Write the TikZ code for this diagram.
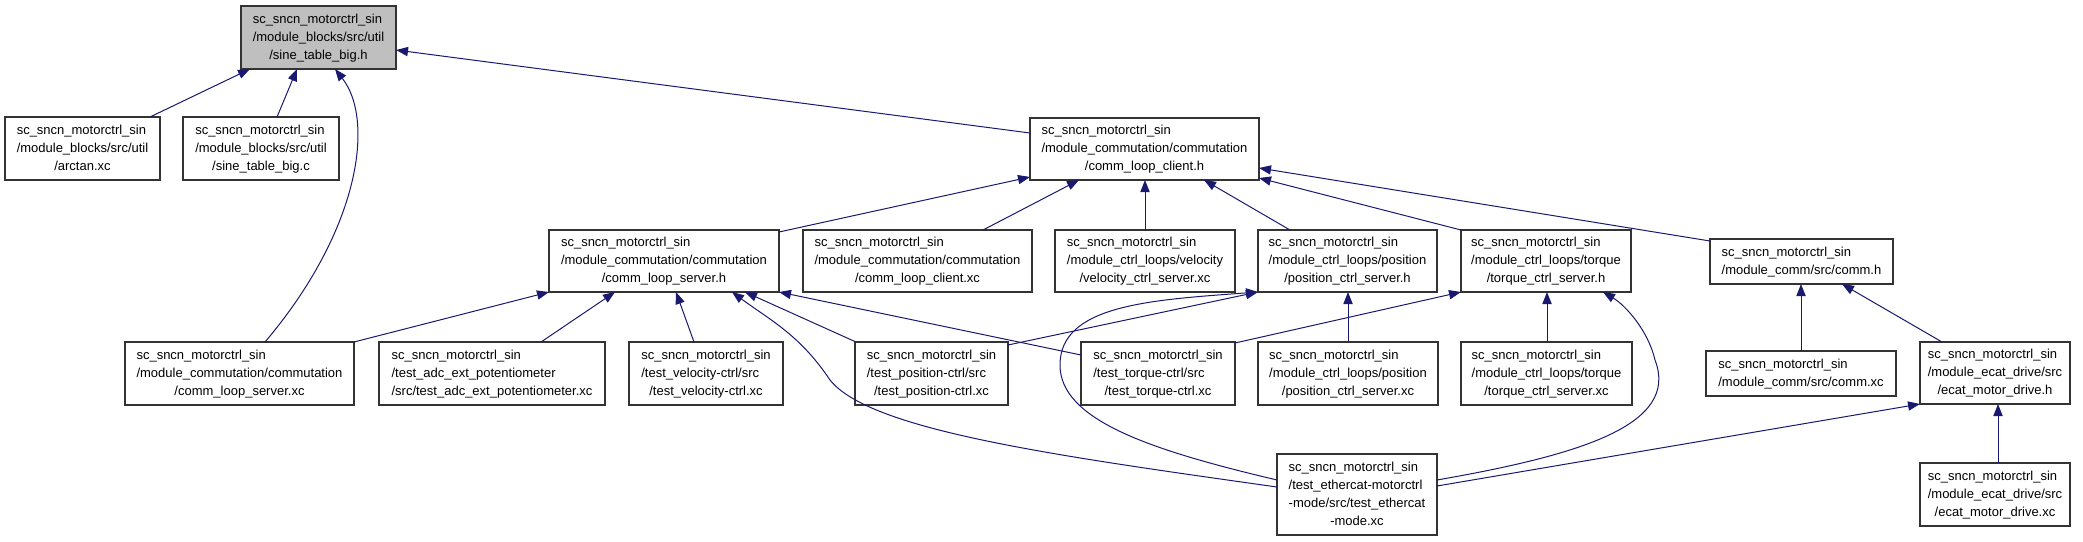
\documentclass[tikz,border=0pt]{standalone}
\usepackage{fontspec}
\setmainfont{Liberation Sans}
\usetikzlibrary{arrows.meta}
\definecolor{edgeblue}{HTML}{191970}
\definecolor{boxline}{HTML}{333333}
\definecolor{rootfill}{HTML}{BFBFBF}
\newcommand\lns[2]{\begin{tabular}{@{}l@{}}#1\\\multicolumn{1}{@{}c@{}}{#2}\end{tabular}}
\newcommand\bx[7][]{%
  \pgfmathsetmacro\bxcx{(#3+#5)/2}\pgfmathsetmacro\bxcy{(#4+#6)/2}%
  \pgfmathsetmacro\bxw{(#5-#3)*0.5}\pgfmathsetmacro\bxh{(#6-#4)*0.5}%
  \node[filebox,#1,minimum width=\bxw pt,minimum height=\bxh pt] (#2) at (\bxcx,\bxcy) {#7};}
\tikzset{
  filebox/.style={draw=boxline,line width=0.7pt,fill=white,inner sep=0pt,outer sep=0pt,
    font=\fontsize{6.5}{9}\selectfont},
  dep/.style={draw=edgeblue,line width=0.5pt,-{Triangle[length=6pt,width=4.6pt]}}
}
\begin{document}
\begin{tikzpicture}[x=0.5pt,y=-0.5pt]
\useasboundingbox (0,0) rectangle (2083,541);
% nodes
\bx[fill=rootfill]{root}{241}{6}{396}{69}{\lns{sc\_sncn\_motorctrl\_sin\\/module\_blocks/src/util}{/sine\_table\_big.h}}
\bx{arctan}{5}{117}{160}{180}{\lns{sc\_sncn\_motorctrl\_sin\\/module\_blocks/src/util}{/arctan.xc}}
\bx{sinec}{183}{117}{339}{180}{\lns{sc\_sncn\_motorctrl\_sin\\/module\_blocks/src/util}{/sine\_table\_big.c}}
\bx{clh}{1030}{118}{1259}{180}{\lns{sc\_sncn\_motorctrl\_sin\\/module\_commutation/commutation}{/comm\_loop\_client.h}}
\bx{clsh}{549}{230}{779}{292}{\lns{sc\_sncn\_motorctrl\_sin\\/module\_commutation/commutation}{/comm\_loop\_server.h}}
\bx{clxc}{803}{230}{1032}{292}{\lns{sc\_sncn\_motorctrl\_sin\\/module\_commutation/commutation}{/comm\_loop\_client.xc}}
\bx{velxc}{1055}{230}{1235}{292}{\lns{sc\_sncn\_motorctrl\_sin\\/module\_ctrl\_loops/velocity}{/velocity\_ctrl\_server.xc}}
\bx{posh}{1258}{230}{1437}{292}{\lns{sc\_sncn\_motorctrl\_sin\\/module\_ctrl\_loops/position}{/position\_ctrl\_server.h}}
\bx{torh}{1461}{230}{1631}{292}{\lns{sc\_sncn\_motorctrl\_sin\\/module\_ctrl\_loops/torque}{/torque\_ctrl\_server.h}}
\bx{commh}{1710}{239}{1893}{284}{\lns{sc\_sncn\_motorctrl\_sin}{/module\_comm/src/comm.h}}
\bx{clsxc}{125}{342}{354}{405}{\lns{sc\_sncn\_motorctrl\_sin\\/module\_commutation/commutation}{/comm\_loop\_server.xc}}
\bx{adc}{379}{342}{605}{405}{\lns{sc\_sncn\_motorctrl\_sin\\/test\_adc\_ext\_potentiometer}{/src/test\_adc\_ext\_potentiometer.xc}}
\bx{tvel}{629}{342}{783}{405}{\lns{sc\_sncn\_motorctrl\_sin\\/test\_velocity-ctrl/src}{/test\_velocity-ctrl.xc}}
\bx{tpos}{855}{342}{1008}{405}{\lns{sc\_sncn\_motorctrl\_sin\\/test\_position-ctrl/src}{/test\_position-ctrl.xc}}
\bx{ttor}{1081}{342}{1235}{405}{\lns{sc\_sncn\_motorctrl\_sin\\/test\_torque-ctrl/src}{/test\_torque-ctrl.xc}}
\bx{posxc}{1258}{342}{1438}{405}{\lns{sc\_sncn\_motorctrl\_sin\\/module\_ctrl\_loops/position}{/position\_ctrl\_server.xc}}
\bx{torxc}{1461}{342}{1632}{405}{\lns{sc\_sncn\_motorctrl\_sin\\/module\_ctrl\_loops/torque}{/torque\_ctrl\_server.xc}}
\bx{commxc}{1706}{351}{1896}{396}{\lns{sc\_sncn\_motorctrl\_sin}{/module\_comm/src/comm.xc}}
\bx{ecath}{1920}{342}{2070}{404}{\lns{sc\_sncn\_motorctrl\_sin\\/module\_ecat\_drive/src}{/ecat\_motor\_drive.h}}
\bx{ecatxc}{1920}{463}{2070}{526}{\lns{sc\_sncn\_motorctrl\_sin\\/module\_ecat\_drive/src}{/ecat\_motor\_drive.xc}}
\bx{ecat}{1277}{454}{1437}{535}{\lns{sc\_sncn\_motorctrl\_sin\\/test\_ethercat-motorctrl\\-mode/src/test\_ethercat}{-mode.xc}}
% edges into root
\draw[dep] ([shift={(145,0)}]arctan.north west) -- ([shift={(9,0)}]root.south west);
\draw[dep] ([shift={(94,0)}]sinec.north west) -- ([shift={(56,0)}]root.south west);
\draw[dep] ([shift={(140,0)}]clsxc.north west) .. controls (360,230) and (375,120) .. ([shift={(94,0)}]root.south west);
\draw[dep] ([shift={(0,15)}]clh.north west) -- ([shift={(0,44)}]root.north east);
% edges into comm_loop_client.h
\draw[dep] ([shift={(0,2)}]clsh.north east) -- ([shift={(0,-3)}]clh.south west);
\draw[dep] ([shift={(180,0)}]clxc.north west) -- ([shift={(49,0)}]clh.south west);
\draw[dep] ([shift={(90,0)}]velxc.north west) -- ([shift={(115,0)}]clh.south west);
\draw[dep] ([shift={(32,0)}]posh.north west) -- ([shift={(174,0)}]clh.south west);
\draw[dep] (torh.north west) -- ([shift={(0,-2)}]clh.south east);
\draw[dep] ([shift={(0,2)}]commh.north west) -- ([shift={(0,-12)}]clh.south east);
% edges into comm_loop_server.h
\draw[dep] (clsxc.north east) -- (clsh.south west);
\draw[dep] ([shift={(162,0)}]adc.north west) -- ([shift={(66,0)}]clsh.south west);
\draw[dep] ([shift={(65,0)}]tvel.north west) -- ([shift={(127,0)}]clsh.south west);
\draw[dep] ([shift={(1,0)}]tpos.north west) -- ([shift={(196,0)}]clsh.south west);
\draw[dep] ([shift={(0,13)}]ttor.north west) -- (clsh.south east);
\draw[dep] ([shift={(0,33)}]ecat.north west) .. controls (1050,455) and (870,430) .. (830,380) .. controls (800,335) and (770,320) .. ([shift={(183,0)}]clsh.south west);
% edges into position_ctrl_server.h
\draw[dep] ([shift={(0,3)}]tpos.north east) -- (posh.south west);
\draw[dep] ([shift={(0,26)}]ecat.north west) .. controls (1150,450) and (1060,420) .. (1060,365) .. controls (1060,305) and (1150,300) .. (posh.south west);
\draw[dep] ([shift={(90,0)}]posxc.north west) -- ([shift={(90,0)}]posh.south west);
% edges into torque_ctrl_server.h
\draw[dep] ([shift={(0,1)}]ttor.north east) -- (torh.south west);
\draw[dep] ([shift={(86,0)}]torxc.north west) -- ([shift={(86,0)}]torh.south west);
\draw[dep] ([shift={(0,26)}]ecat.north east) .. controls (1580,455) and (1680,425) .. (1655,360) .. controls (1648,330) and (1625,305) .. ([shift={(142,0)}]torh.south west);
% comm / ecat
\draw[dep] ([shift={(0,32)}]ecat.north east) -- (ecath.south west);
\draw[dep] ([shift={(95,0)}]commxc.north west) -- ([shift={(91,0)}]commh.south west);
\draw[dep] ([shift={(22,0)}]ecath.north west) -- ([shift={(132,0)}]commh.south west);
\draw[dep] ([shift={(78,0)}]ecatxc.north west) -- ([shift={(78,0)}]ecath.south west);
\end{tikzpicture}
\end{document}
